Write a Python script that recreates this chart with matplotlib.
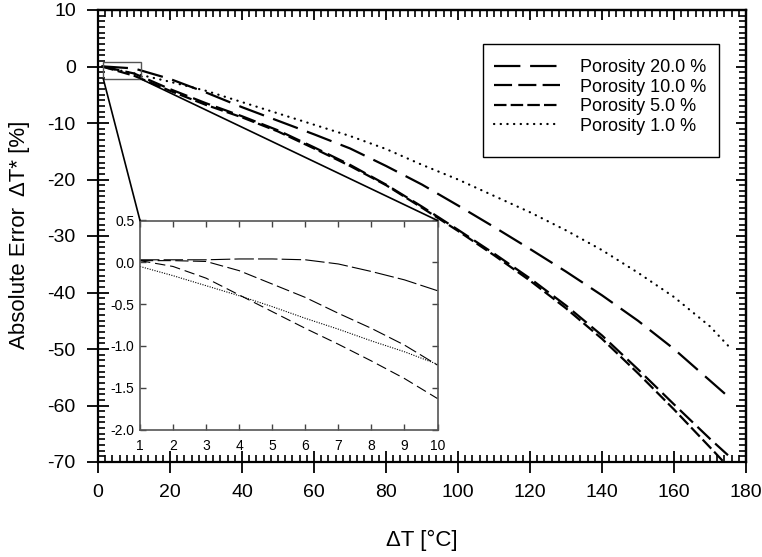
import matplotlib
matplotlib.use('Agg')
import matplotlib.pyplot as plt
from matplotlib.ticker import MultipleLocator, FormatStrFormatter
from matplotlib.patches import Rectangle, ConnectionPatch

plt.rcParams['font.family'] = ['Liberation Sans', 'DejaVu Sans']
plt.rcParams['axes.unicode_minus'] = False
plt.rcParams['lines.scale_dashes'] = False

# ---------------- data ----------------
dT = [1, 10, 20, 30, 40, 50, 60, 70, 80, 90, 100, 110, 120, 130, 140, 150, 160, 170, 175]
err_p20 = [0.03, -0.34, -2.2, -4.6, -7.2, -9.6, -12.0, -14.5, -17.6, -20.9, -24.6, -28.4,
           -32.3, -36.3, -40.5, -45.0, -50.0, -55.6, -58.4]
err_p10 = [0.02, -1.23, -4.0, -6.5, -8.8, -11.3, -14.3, -17.4, -20.9, -24.8, -28.9, -33.1,
           -37.5, -42.3, -47.6, -53.6, -59.8, -65.9, -68.8]
err_p5 = [0.02, -1.63, -4.3, -6.8, -9.0, -11.5, -14.5, -17.6, -21.0, -25.0, -29.1, -33.4,
          -37.9, -42.8, -48.2, -54.3, -60.7, -67.4, -70.8]
err_p1 = [-0.05, -1.22, -2.7, -4.3, -6.3, -8.3, -10.3, -12.3, -14.6, -17.4, -20.0, -22.9,
          -25.8, -29.0, -32.5, -36.5, -40.8, -46.0, -49.4]

inset_dT = [1, 2, 3, 4, 5, 6, 7, 8, 9, 10]
inset_p20 = [0.03, 0.03, 0.03, 0.04, 0.04, 0.03, -0.02, -0.11, -0.21, -0.34]
inset_p10 = [0.02, 0.02, 0.01, -0.10, -0.26, -0.42, -0.61, -0.79, -0.99, -1.23]
inset_p5 = [0.02, -0.05, -0.19, -0.39, -0.59, -0.79, -0.98, -1.18, -1.39, -1.63]
inset_p1 = [-0.05, -0.16, -0.28, -0.40, -0.53, -0.67, -0.80, -0.94, -1.07, -1.22]

labels = ['Porosity 20.0 %', 'Porosity 10.0 %', 'Porosity 5.0 %', 'Porosity 1.0 %']

# ---------------- figure ----------------
W, H = 762, 557
fig = plt.figure(figsize=(W / 100, H / 100), dpi=100)
fig.patch.set_facecolor('white')

def fx(px):
    return px / W

def fy(py):
    return 1 - py / H

ax = fig.add_axes([fx(98), fy(462), fx(746) - fx(98), fy(10) - fy(462)])

main_styles = [
    dict(dashes=(19, 7)),
    dict(dashes=(13, 4.5)),
    dict(dashes=(9, 3)),
    dict(dashes=(0.2, 4.6), dash_capstyle='round'),
]
series = [err_p20, err_p10, err_p5, err_p1]
handles = []
for s, st, lab in zip(series, main_styles, labels):
    ln, = ax.plot(dT, s, color='black', lw=1.6, label=lab, **st)
    handles.append(ln)

ax.set_xlim(0, 180)
ax.set_ylim(-70, 10)
ax.xaxis.set_major_locator(MultipleLocator(20))
ax.xaxis.set_minor_locator(MultipleLocator(2))
ax.yaxis.set_major_locator(MultipleLocator(10))
ax.yaxis.set_minor_locator(MultipleLocator(1))
ax.tick_params(which='major', direction='inout', length=16, width=1.3,
               labelsize=14, pad=8)
ax.tick_params(which='minor', direction='in', length=5, width=1.2)
for sp in ax.spines.values():
    sp.set_linewidth(1.6)

secx = ax.secondary_xaxis('top')
secx.xaxis.set_major_locator(MultipleLocator(20))
secx.xaxis.set_minor_locator(MultipleLocator(2))
secx.tick_params(which='both', direction='in', labeltop=False)
secx.tick_params(which='major', length=7, width=1.3)
secx.tick_params(which='minor', length=5, width=1.2)
secx.spines['top'].set_linewidth(1.6)

secy = ax.secondary_yaxis('right')
secy.yaxis.set_major_locator(MultipleLocator(10))
secy.yaxis.set_minor_locator(MultipleLocator(1))
secy.tick_params(which='both', direction='in', labelright=False)
secy.tick_params(which='major', length=7, width=1.3)
secy.tick_params(which='minor', length=5, width=1.2)
secy.spines['right'].set_linewidth(1.6)

fig.text(fx(20), fy(235), 'Absolute Error  \u0394T* [%]', rotation=90,
         ha='center', va='center', fontsize=16)
fig.text(fx(422), fy(540), '\u0394T [\u00b0C]', ha='center', va='center', fontsize=16)

# zoom rectangle
rx0, rx1, ry0, ry1 = 1.47, 11.85, -2.18, 0.71
ax.add_patch(Rectangle((rx0, ry0), rx1 - rx0, ry1 - ry0, fill=False,
                       edgecolor='#555555', lw=1.0, zorder=3))

# legend
leg = ax.legend(handles=handles, loc='upper left',
                bbox_to_anchor=(fx(483), fy(48)), bbox_transform=fig.transFigure,
                frameon=False, fontsize=13, handlelength=3.65, handletextpad=1.1,
                borderpad=0.62, labelspacing=0.14, borderaxespad=0)
fig.patches.append(Rectangle((fx(483), fy(157)), fx(719) - fx(483), fy(44) - fy(157),
                             transform=fig.transFigure, fill=False,
                             edgecolor='black', lw=1.0, figure=fig))

# inset
axins = fig.add_axes([fx(140), fy(429.5), fx(437.5) - fx(140), fy(220.5) - fy(429.5)])
axins.set_facecolor('white')
inset_styles = [
    dict(dashes=(14, 3)),
    dict(dashes=(9.5, 3.2)),
    dict(dashes=(7.5, 3.5)),
    dict(dashes=(0.8, 1.0)),
]
for s, st in zip([inset_p20, inset_p10, inset_p5, inset_p1], inset_styles):
    axins.plot(inset_dT, s, color='black', lw=0.8, **st)
axins.set_xlim(1, 10)
axins.set_ylim(-2.0, 0.5)
axins.xaxis.set_major_locator(MultipleLocator(1))
axins.yaxis.set_major_locator(MultipleLocator(0.5))
axins.yaxis.set_major_formatter(FormatStrFormatter('%.1f'))
axins.tick_params(which='major', direction='in', length=4, width=1.0,
                  labelsize=10, top=True, right=True, color='#444444')
axins.tick_params(axis='x', pad=7)
axins.tick_params(axis='y', pad=4)
for sp in axins.spines.values():
    sp.set_linewidth(1.2)
    sp.set_edgecolor('#555555')

# connector lines
for xa, xb in [(rx0, 0.0), (rx1, 1.0)]:
    con = ConnectionPatch(xyA=(xa, ry0), coordsA=ax.transData,
                          xyB=(xb, 1.0), coordsB=axins.transAxes,
                          color='black', lw=1.2)
    fig.add_artist(con)

fig.savefig('out.png', dpi=100, facecolor='white')
